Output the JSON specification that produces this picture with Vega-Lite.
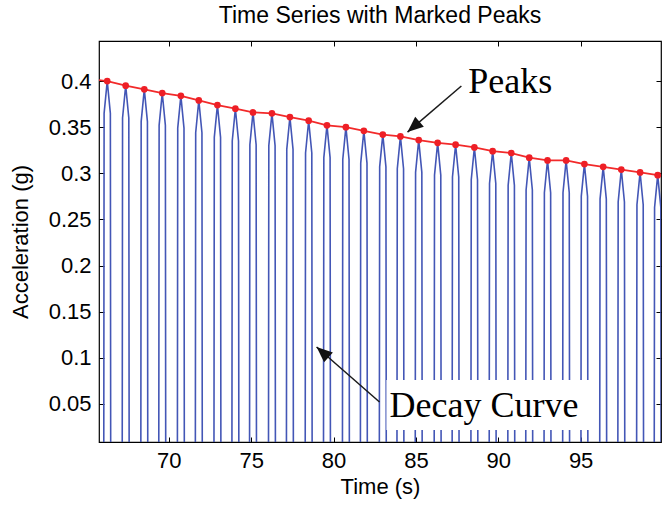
{
  "$schema": "https://vega.github.io/schema/vega-lite/v6.json",
  "width": 562,
  "height": 401,
  "autosize": {"type": "none"},
  "padding": {"left": 99, "top": 41, "right": 4, "bottom": 66},
  "background": "white",
  "title": {"text": "Time Series with Marked Peaks", "font": "Liberation Sans", "fontSize": 23, "fontWeight": "normal", "color": "black", "offset": 13},
  "config": {
    "view": {"stroke": "black", "strokeWidth": 1.2},
    "axis": {"grid": false, "domain": false, "tickColor": "black", "tickSize": -5, "tickWidth": 1, "labelFont": "Liberation Sans", "labelFontSize": 22, "labelColor": "black", "titleFont": "Liberation Sans", "titleFontSize": 22, "titleFontWeight": "normal", "titleColor": "black"}
  },
  "resolve": {"axis": {"x": "independent", "y": "independent"}},
  "datasets": {
    "sig": [
      {"t":66.05,"a":0},{"t":66.07,"a":0.365},{"t":66.26,"a":0.4},{"t":66.45,"a":0.365},{"t":66.47,"a":0},
      {"t":67.17,"a":0},{"t":67.19,"a":0.36},{"t":67.38,"a":0.395},{"t":67.57,"a":0.36},{"t":67.59,"a":0},
      {"t":68.3,"a":0},{"t":68.32,"a":0.356},{"t":68.51,"a":0.391},{"t":68.7,"a":0.356},{"t":68.72,"a":0},
      {"t":69.39,"a":0},{"t":69.41,"a":0.352},{"t":69.6,"a":0.387},{"t":69.79,"a":0.352},{"t":69.81,"a":0},
      {"t":70.52,"a":0},{"t":70.54,"a":0.349},{"t":70.73,"a":0.384},{"t":70.92,"a":0.349},{"t":70.94,"a":0},
      {"t":71.61,"a":0},{"t":71.63,"a":0.344},{"t":71.82,"a":0.379},{"t":72.01,"a":0.344},{"t":72.03,"a":0},
      {"t":72.74,"a":0},{"t":72.76,"a":0.339},{"t":72.95,"a":0.374},{"t":73.14,"a":0.339},{"t":73.16,"a":0},
      {"t":73.83,"a":0},{"t":73.85,"a":0.335},{"t":74.04,"a":0.37},{"t":74.23,"a":0.335},{"t":74.25,"a":0},
      {"t":74.9,"a":0},{"t":74.92,"a":0.331},{"t":75.11,"a":0.366},{"t":75.3,"a":0.331},{"t":75.32,"a":0},
      {"t":76.05,"a":0},{"t":76.07,"a":0.33},{"t":76.26,"a":0.365},{"t":76.45,"a":0.33},{"t":76.47,"a":0},
      {"t":77.14,"a":0},{"t":77.16,"a":0.326},{"t":77.35,"a":0.361},{"t":77.54,"a":0.326},{"t":77.56,"a":0},
      {"t":78.28,"a":0},{"t":78.3,"a":0.322},{"t":78.49,"a":0.357},{"t":78.68,"a":0.322},{"t":78.7,"a":0},
      {"t":79.39,"a":0},{"t":79.41,"a":0.317},{"t":79.6,"a":0.352},{"t":79.79,"a":0.317},{"t":79.81,"a":0},
      {"t":80.54,"a":0},{"t":80.56,"a":0.315},{"t":80.75,"a":0.35},{"t":80.94,"a":0.315},{"t":80.96,"a":0},
      {"t":81.63,"a":0},{"t":81.65,"a":0.311},{"t":81.84,"a":0.346},{"t":82.03,"a":0.311},{"t":82.05,"a":0},
      {"t":82.78,"a":0},{"t":82.8,"a":0.307},{"t":82.99,"a":0.342},{"t":83.18,"a":0.307},{"t":83.2,"a":0},
      {"t":83.85,"a":0},{"t":83.87,"a":0.305},{"t":84.06,"a":0.34},{"t":84.25,"a":0.305},{"t":84.27,"a":0},
      {"t":84.96,"a":0},{"t":84.98,"a":0.301},{"t":85.17,"a":0.336},{"t":85.36,"a":0.301},{"t":85.38,"a":0},
      {"t":86.11,"a":0},{"t":86.13,"a":0.298},{"t":86.32,"a":0.333},{"t":86.51,"a":0.298},{"t":86.53,"a":0},
      {"t":87.2,"a":0},{"t":87.22,"a":0.296},{"t":87.41,"a":0.331},{"t":87.6,"a":0.296},{"t":87.62,"a":0},
      {"t":88.34,"a":0},{"t":88.36,"a":0.293},{"t":88.55,"a":0.328},{"t":88.74,"a":0.293},{"t":88.76,"a":0},
      {"t":89.45,"a":0},{"t":89.47,"a":0.289},{"t":89.66,"a":0.324},{"t":89.85,"a":0.289},{"t":89.87,"a":0},
      {"t":90.58,"a":0},{"t":90.6,"a":0.287},{"t":90.79,"a":0.322},{"t":90.98,"a":0.287},{"t":91.0,"a":0},
      {"t":91.67,"a":0},{"t":91.69,"a":0.282},{"t":91.88,"a":0.317},{"t":92.07,"a":0.282},{"t":92.09,"a":0},
      {"t":92.78,"a":0},{"t":92.8,"a":0.279},{"t":92.99,"a":0.314},{"t":93.18,"a":0.279},{"t":93.2,"a":0},
      {"t":93.91,"a":0},{"t":93.93,"a":0.279},{"t":94.12,"a":0.314},{"t":94.31,"a":0.279},{"t":94.33,"a":0},
      {"t":95.02,"a":0},{"t":95.04,"a":0.275},{"t":95.23,"a":0.31},{"t":95.42,"a":0.275},{"t":95.44,"a":0},
      {"t":96.16,"a":0},{"t":96.18,"a":0.272},{"t":96.37,"a":0.307},{"t":96.56,"a":0.272},{"t":96.58,"a":0},
      {"t":97.26,"a":0},{"t":97.28,"a":0.269},{"t":97.47,"a":0.304},{"t":97.66,"a":0.269},{"t":97.68,"a":0},
      {"t":98.4,"a":0},{"t":98.42,"a":0.266},{"t":98.61,"a":0.301},{"t":98.8,"a":0.266},{"t":98.82,"a":0},
      {"t":99.47,"a":0},{"t":99.49,"a":0.263},{"t":99.68,"a":0.298},{"t":99.87,"a":0.263},{"t":99.89,"a":0}
    ],
    "pk": [
      {"t":65.7,"a":0.4012,"dot":false},
      {"t":66.26,"a":0.4,"dot":true},{"t":67.38,"a":0.395,"dot":true},{"t":68.51,"a":0.391,"dot":true},
      {"t":69.6,"a":0.387,"dot":true},{"t":70.73,"a":0.384,"dot":true},{"t":71.82,"a":0.379,"dot":true},
      {"t":72.95,"a":0.374,"dot":true},{"t":74.04,"a":0.37,"dot":true},{"t":75.11,"a":0.366,"dot":true},
      {"t":76.26,"a":0.365,"dot":true},{"t":77.35,"a":0.361,"dot":true},{"t":78.49,"a":0.357,"dot":true},
      {"t":79.6,"a":0.352,"dot":true},{"t":80.75,"a":0.35,"dot":true},{"t":81.84,"a":0.346,"dot":true},
      {"t":82.99,"a":0.342,"dot":true},{"t":84.06,"a":0.34,"dot":true},{"t":85.17,"a":0.336,"dot":true},
      {"t":86.32,"a":0.333,"dot":true},{"t":87.41,"a":0.331,"dot":true},{"t":88.55,"a":0.328,"dot":true},
      {"t":89.66,"a":0.324,"dot":true},{"t":90.79,"a":0.322,"dot":true},{"t":91.88,"a":0.317,"dot":true},
      {"t":92.99,"a":0.314,"dot":true},{"t":94.12,"a":0.314,"dot":true},{"t":95.23,"a":0.31,"dot":true},
      {"t":96.37,"a":0.307,"dot":true},{"t":97.47,"a":0.304,"dot":true},{"t":98.61,"a":0.301,"dot":true},
      {"t":99.68,"a":0.298,"dot":true},
      {"t":100.0,"a":0.2972,"dot":false}
    ],
    "notes": [
      {"label":"Peaks","x":88.18,"y":0.387,"tx":87.76,"ty":0.3946,"hx":84.49,"hy":0.3447,"ang":229.5},
      {"label":"Decay Curve","x":83.4,"y":0.036,"tx":82.79,"ty":0.0522,"hx":78.97,"hy":0.1118,"ang":311.2}
    ],
    "box": [
      {"x1":83.21,"x2":95.64,"y1":0.0219,"y2":0.0761}
    ]
  },
  "layer": [
    {
      "data": {"name": "sig"},
      "mark": {"type": "line", "clip": true, "color": "#4356b6", "strokeWidth": 1.6, "interpolate": "linear"},
      "encoding": {
        "x": {"field": "t", "type": "quantitative", "scale": {"domain": [65.76, 99.88], "nice": false, "zero": false},
              "axis": {"title": "Time (s)", "values": [70, 75, 80, 85, 90, 95], "labelPadding": 13, "titlePadding": 5}},
        "y": {"field": "a", "type": "quantitative", "scale": {"domain": [0.0088, 0.4434], "nice": false, "zero": false},
              "axis": {"title": "Acceleration (g)", "values": [0.05, 0.1, 0.15, 0.2, 0.25, 0.3, 0.35, 0.4], "format": "~g", "labelPadding": 13, "titlePadding": 16}},
        "order": {"field": "t", "type": "quantitative"}
      }
    },
    {
      "data": {"name": "pk"},
      "mark": {"type": "line", "clip": true, "color": "#f22a2a", "strokeWidth": 1.8},
      "encoding": {
        "x": {"field": "t", "type": "quantitative", "axis": {"orient": "top", "labels": false, "title": null, "values": [70, 75, 80, 85, 90, 95]}},
        "y": {"field": "a", "type": "quantitative", "axis": {"orient": "right", "labels": false, "title": null, "values": [0.05, 0.1, 0.15, 0.2, 0.25, 0.3, 0.35, 0.4]}}
      }
    },
    {
      "data": {"name": "pk"},
      "transform": [{"filter": "datum.dot"}],
      "mark": {"type": "point", "filled": true, "color": "#ee1f26", "size": 45, "opacity": 1},
      "encoding": {
        "x": {"field": "t", "type": "quantitative", "axis": null},
        "y": {"field": "a", "type": "quantitative", "axis": null}
      }
    },
    {
      "data": {"name": "box"},
      "mark": {"type": "rect", "color": "white", "opacity": 1},
      "encoding": {
        "x": {"field": "x1", "type": "quantitative", "axis": null},
        "x2": {"field": "x2"},
        "y": {"field": "y1", "type": "quantitative", "axis": null},
        "y2": {"field": "y2"}
      }
    },
    {
      "data": {"name": "notes"},
      "mark": {"type": "text", "font": "Liberation Serif", "fontSize": 36, "align": "left", "baseline": "alphabetic", "color": "black"},
      "encoding": {
        "x": {"field": "x", "type": "quantitative", "axis": null},
        "y": {"field": "y", "type": "quantitative", "axis": null},
        "text": {"field": "label"}
      }
    },
    {
      "data": {"name": "notes"},
      "mark": {"type": "rule", "color": "#1a1a1a", "strokeWidth": 1.5},
      "encoding": {
        "x": {"field": "tx", "type": "quantitative", "axis": null},
        "y": {"field": "ty", "type": "quantitative", "axis": null},
        "x2": {"field": "hx"},
        "y2": {"field": "hy"}
      }
    },
    {
      "data": {"name": "notes"},
      "mark": {"type": "point", "filled": true, "color": "#111111", "opacity": 1, "shape": "M0,0L-0.42,1L0.42,1Z", "size": 1000},
      "encoding": {
        "x": {"field": "hx", "type": "quantitative", "axis": null},
        "y": {"field": "hy", "type": "quantitative", "axis": null},
        "angle": {"field": "ang", "type": "quantitative", "scale": null}
      }
    }
  ]
}
